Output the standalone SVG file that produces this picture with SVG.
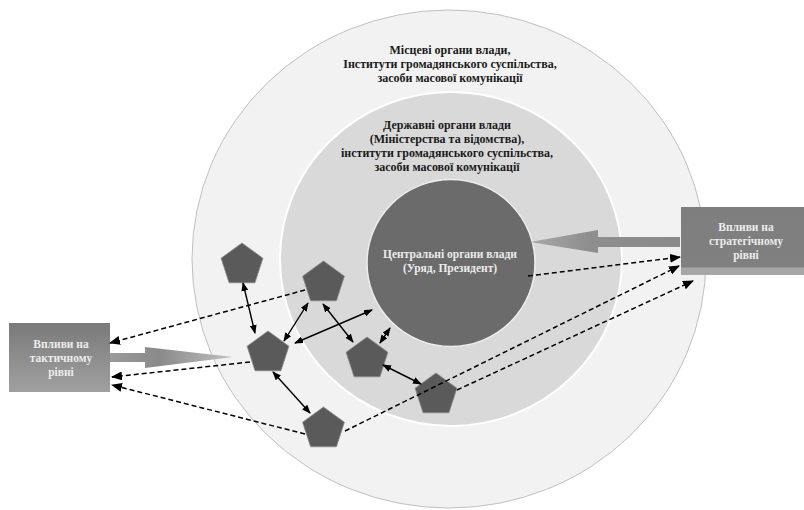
<svg xmlns="http://www.w3.org/2000/svg" width="804" height="510" viewBox="0 0 804 510">
<defs>
<style>
.t{font-family:"Liberation Serif","DejaVu Serif",serif;font-weight:bold;font-size:12px;text-anchor:middle;fill:#1a1a1a}
.tw{font-family:"Liberation Serif","DejaVu Serif",serif;font-weight:bold;font-size:11.5px;text-anchor:middle;fill:#ececec}
.tb{font-family:"Liberation Serif","DejaVu Serif",serif;font-weight:bold;font-size:11.5px;text-anchor:middle;fill:#ececec}
.pent{fill:#5a5a5a;stroke:#8a8a8a;stroke-width:0.8}
.sol{stroke:#000;stroke-width:1.4;fill:none;marker-start:url(#ah);marker-end:url(#ah)}
.dash{stroke:#000;stroke-width:1.5;fill:none;stroke-dasharray:5 3;marker-end:url(#dh)}
</style>
<marker id="ah" markerUnits="userSpaceOnUse" markerWidth="9" markerHeight="7" refX="8" refY="3.5" orient="auto-start-reverse"><path d="M0,0 L9,3.5 L0,7 z" fill="#000"/></marker>
<marker id="dh" markerUnits="userSpaceOnUse" markerWidth="11" markerHeight="9" refX="10" refY="4.5" orient="auto"><path d="M0,0 L11,4.5 L0,9 z" fill="#000"/></marker>
<linearGradient id="gS" x1="0" y1="0" x2="0" y2="1"><stop offset="0" stop-color="#7e7e7e"/><stop offset="0.88" stop-color="#808080"/><stop offset="0.9" stop-color="#a4a4a4"/><stop offset="1" stop-color="#a8a8a8"/></linearGradient>
<linearGradient id="gT" x1="0" y1="0" x2="0" y2="1"><stop offset="0" stop-color="#7a7a7a"/><stop offset="1" stop-color="#a0a0a0"/></linearGradient>
<linearGradient id="gTA" x1="110" y1="0" x2="233" y2="0" gradientUnits="userSpaceOnUse"><stop offset="0" stop-color="#9a9a9a"/><stop offset="0.4" stop-color="#8a8a8a"/><stop offset="1" stop-color="#c0c0c0"/></linearGradient>
<linearGradient id="gSA" x1="680" y1="0" x2="530" y2="0" gradientUnits="userSpaceOnUse"><stop offset="0" stop-color="#8a8a8a"/><stop offset="0.6" stop-color="#8e8e8e"/><stop offset="1" stop-color="#a8a8a8"/></linearGradient>
<polygon id="pg" points="0,-22 20.92,-6.8 12.93,17.8 -12.93,17.8 -20.92,-6.8"/>
</defs>
<rect width="804" height="510" fill="#fff"/>
<g id="outer">
<ellipse cx="449" cy="259" rx="257" ry="249" fill="#f2f2f2" stroke="#c0c0c0" stroke-width="1"/>
<text class="t" x="450" y="54">Місцеві органи влади,</text>
<text class="t" x="450" y="68">Інститути громадянського суспільства,</text>
<text class="t" x="450" y="82">засоби масової комунікації</text>
</g>
<g id="middle">
<ellipse cx="451" cy="259" rx="171" ry="167" fill="#d9d9d9" stroke="#ffffff" stroke-width="2"/>
<text class="t" x="447" y="129">Державні органи влади</text>
<text class="t" x="447" y="143">(Міністерства та відомства),</text>
<text class="t" x="447" y="157">інститути громадянського суспільства,</text>
<text class="t" x="447" y="171">засоби масової комунікації</text>
</g>
<g id="inner">
<ellipse cx="451" cy="263" rx="84" ry="83.5" fill="#6b6b6b" stroke="#eeeeee" stroke-width="1.5"/>
<text class="tw" x="450" y="258">Центральні органи влади</text>
<text class="tw" x="450" y="272">(Уряд, Президент)</text>
</g>
<g id="strategic">
<polygon points="680,237 598,237 598,230 530,242 598,253 598,247 680,247" fill="url(#gSA)"/>
<rect x="681" y="207" width="123" height="68" fill="url(#gS)"/>
<text class="tb" x="746" y="231">Впливи на</text>
<text class="tb" x="746" y="245">стратегічному</text>
<text class="tb" x="746" y="259">рівні</text>
</g>
<g id="tactical">
<polygon points="110,353 145,353 145,347 233,357 145,368 145,362 110,362" fill="url(#gTA)"/>
<rect x="9" y="323" width="101" height="69" fill="url(#gT)"/>
<text class="tb" x="61" y="348">Впливи на</text>
<text class="tb" x="61" y="362">тактичному</text>
<text class="tb" x="61" y="376">рівні</text>
</g>
<g id="actors">
<use href="#pg" class="pent" x="242" y="265"/>
<use href="#pg" class="pent" x="323.5" y="283"/>
<use href="#pg" class="pent" x="268" y="353"/>
<use href="#pg" class="pent" x="367" y="359"/>
<use href="#pg" class="pent" x="436" y="395"/>
<use href="#pg" class="pent" x="323.5" y="429"/>
</g>
<g id="connectors">
<line class="sol" x1="243" y1="283" x2="255" y2="333"/>
<line class="sol" x1="308" y1="303" x2="284" y2="341"/>
<line class="sol" x1="295" y1="343" x2="372" y2="310"/>
<line class="sol" x1="323" y1="304" x2="353" y2="342"/>
<line class="sol" x1="380" y1="343" x2="390" y2="328"/>
<line class="sol" x1="383" y1="365" x2="421" y2="384"/>
<line class="sol" x1="273" y1="372" x2="310" y2="413"/>
<line class="dash" x1="528" y1="276" x2="680" y2="257"/>
<line class="dash" x1="345" y1="431" x2="679" y2="266"/>
<line class="dash" x1="457" y1="390" x2="693" y2="281"/>
<line class="dash" x1="305" y1="290" x2="110" y2="343"/>
<line class="dash" x1="250" y1="362" x2="112" y2="377"/>
<line class="dash" x1="305" y1="434" x2="112" y2="385"/>
</g>
</svg>
